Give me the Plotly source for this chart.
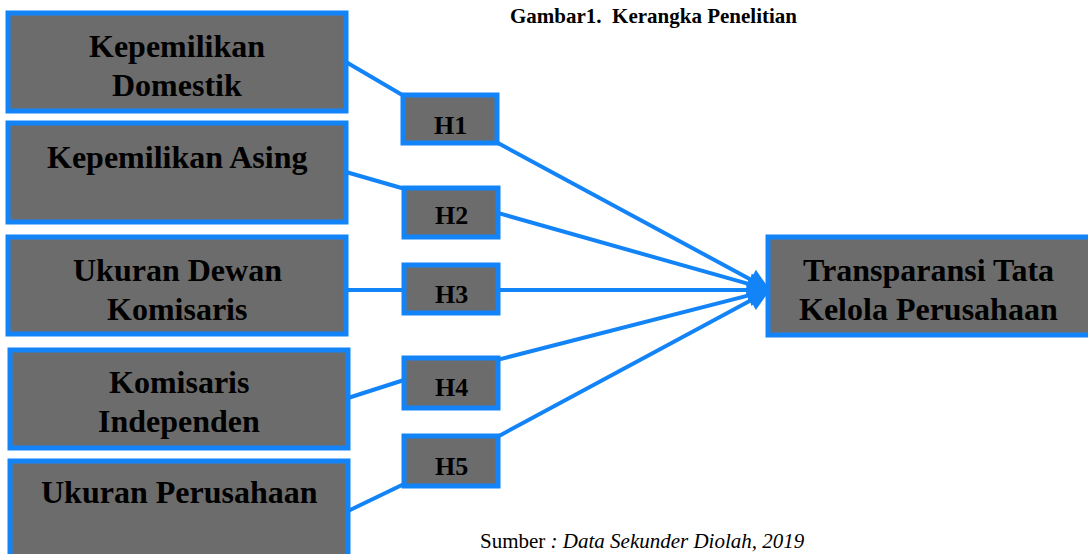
import plotly.graph_objects as go

# ---- content ----
title_text = "Gambar1.  Kerangka Penelitian"
source_plain = "Sumber "
source_italic = ": Data Sekunder Diolah, 2019"
var_labels = ["Kepemilikan<br>Domestik", "Kepemilikan Asing", "Ukuran Dewan<br>Komisaris",
              "Komisaris<br>Independen", "Ukuran Perusahaan"]
hyp_labels = ["H1", "H2", "H3", "H4", "H5"]
target_label = "Transparansi Tata<br>Kelola Perusahaan"

# ---- layout geometry (pixel coordinates, y down) ----
var_boxes = [(8, 13, 346, 111), (8, 123, 346, 222), (8, 237, 346, 334),
             (10, 350, 348, 448), (10, 461, 348, 560)]
var_text_y = [65, 157, 289, 401, 492]
hyp_boxes = [(403, 95, 497, 143), (404, 188, 498, 237), (404, 265, 498, 313),
             (404, 358, 498, 408), (404, 436, 498, 486)]
hyp_text_y = [125, 215, 294, 387, 466]
in_from = [(346, 62), (346, 172), (346, 290), (348, 398), (348, 511)]
in_to = [(404, 96), (405, 189), (404, 290), (404, 380), (404, 484)]
out_from = [(496, 142), (498, 213), (498, 290), (497, 360), (497, 437)]
tip = (770, 290)
target_box = (768, 237, 1095, 335)
LINE_GAP = 39

BLUE = "#1284f7"
GRAY = "#6c6c6c"
FONT = "Liberation Serif"

fig = go.Figure()
shapes = []
annotations = []


def add_multiline(label, cx, cy, size):
    lines = label.split("<br>")
    n = len(lines)
    for i, ln in enumerate(lines):
        y = cy + (i - (n - 1) / 2) * LINE_GAP
        annotations.append(dict(x=cx, y=y, xref="x", yref="y", showarrow=False,
                                text="<b>" + ln + "</b>",
                                font=dict(family=FONT, size=size, color="black")))


for (x0, y0, x1, y1) in var_boxes + hyp_boxes + [target_box]:
    shapes.append(dict(type="rect", x0=x0, y0=y0, x1=x1, y1=y1, xref="x", yref="y",
                       fillcolor=GRAY, line=dict(color=BLUE, width=5), layer="above"))

for (a, b) in zip(in_from, in_to):
    shapes.append(dict(type="line", x0=a[0], y0=a[1], x1=b[0], y1=b[1], xref="x", yref="y",
                       line=dict(color=BLUE, width=4), layer="below"))

for a in out_from:
    annotations.append(dict(x=tip[0], y=tip[1], ax=a[0], ay=a[1], xref="x", yref="y",
                            axref="x", ayref="y", text="", showarrow=True, arrowhead=2,
                            arrowsize=1.1, arrowwidth=4, arrowcolor=BLUE, standoff=0))

for lab, (x0, y0, x1, y1), ty in zip(var_labels, var_boxes, var_text_y):
    add_multiline(lab, (x0 + x1) / 2, ty, 32)

for lab, (x0, y0, x1, y1), ty in zip(hyp_labels, hyp_boxes, hyp_text_y):
    annotations.append(dict(x=(x0 + x1) / 2, y=ty, xref="x", yref="y", showarrow=False,
                            text="<b>" + lab + "</b>", font=dict(family=FONT, size=26, color="black")))

add_multiline(target_label, 928, 289, 32)

annotations.append(dict(x=653, y=16, xref="x", yref="y", showarrow=False,
                        text="<b>" + title_text + "</b>", font=dict(family=FONT, size=21, color="black")))

annotations.append(dict(x=642, y=541, xref="x", yref="y", showarrow=False,
                        text=source_plain + "<i>" + source_italic + "</i>",
                        font=dict(family=FONT, size=21, color="black")))

fig.update_layout(
    width=1088, height=554,
    margin=dict(l=0, r=0, t=0, b=0),
    paper_bgcolor="white", plot_bgcolor="white",
    xaxis=dict(range=[0, 1088], visible=False, fixedrange=True),
    yaxis=dict(range=[554, 0], visible=False, fixedrange=True),
    shapes=shapes, annotations=annotations, showlegend=False,
)

fig.write_html("out.html", config={"displayModeBar": False},
               post_script="document.body.style.margin='0';document.body.style.overflow='hidden';")
